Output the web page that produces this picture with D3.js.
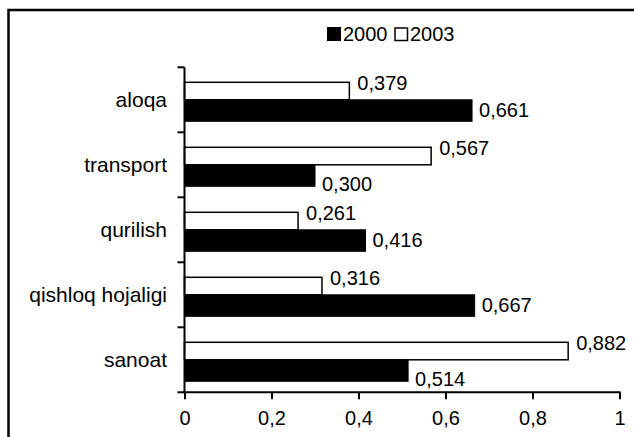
<!DOCTYPE html>
<html><head><meta charset="utf-8">
<script src="https://cdn.jsdelivr.net/npm/d3@7"></script>
<style>html,body{margin:0;padding:0;background:#fff;}svg{display:block;}</style>
</head><body>
<script>
const categories = ["aloqa", "transport", "qurilish", "qishloq hojaligi", "sanoat"];
const series = ["2000", "2003"];
const values2000 = [0.661, 0.300, 0.416, 0.667, 0.514];
const values2003 = [0.379, 0.567, 0.261, 0.316, 0.882];
const xTicks = [0, 0.2, 0.4, 0.6, 0.8, 1];

const W = 634, H = 437;
const font = "'Liberation Sans', Arial, sans-serif";
const fmt = v => d3.format(".3f")(v).replace(".", ",");
const tickFmt = v => String(v).replace(".", ",");

const svg = d3.select("body").append("svg").attr("width", W).attr("height", H);

// outer frame
svg.append("rect").attr("x", 8.5).attr("y", 10).attr("width", 800).attr("height", 600)
  .attr("fill", "none").attr("stroke", "#000").attr("stroke-width", 2.5);

const x = d3.scaleLinear().domain([0, 1]).range([184.5, 619.5]);
const y = d3.scaleBand().domain(categories).range([67.3, 392.3]).padding(0);
const sub = d3.scaleBand().domain(["2003", "2000"]).range([14.5, 53.5]).padding(0);
const bw = sub.bandwidth();

const g = svg.append("g");

categories.forEach((c, i) => {
  const y0 = y(c);
  const v3 = values2003[i], v0 = values2000[i];
  // 2003 white bar
  const wy = y0 + sub("2003") + 0.5;
  const wh = bw - 2;
  g.append("rect").attr("x", x(0)).attr("y", wy).attr("width", x(v3) - x(0)).attr("height", wh)
    .attr("fill", "#fff").attr("stroke", "#000").attr("stroke-width", 1.5);
  // 2000 black bar
  const by = y0 + sub("2000") - 1.5;
  const bh = bw + 2;
  g.append("rect").attr("x", x(0)).attr("y", by).attr("width", x(v0) - x(0)).attr("height", bh)
    .attr("fill", "#000").attr("stroke", "#000").attr("stroke-width", 1);
  // labels
  g.append("text").attr("x", x(v3) + 8).attr("y", wy + wh / 2 - 8).attr("dy", "0.36em")
    .attr("font-family", font).attr("font-size", 20).text(fmt(v3));
  const off = v3 > v0 ? 8 : -1;
  g.append("text").attr("x", x(v0) + 7).attr("y", by + bh / 2 + off).attr("dy", "0.36em")
    .attr("font-family", font).attr("font-size", 20).text(fmt(v0));
});

// y axis
const yBounds = categories.map(c => y(c)).concat([y.range()[1]]);
const ya = svg.append("g");
ya.append("line").attr("x1", x(0)).attr("x2", x(0)).attr("y1", y.range()[0]).attr("y2", y.range()[1])
  .attr("stroke", "#000").attr("stroke-width", 2);
yBounds.forEach(v => ya.append("line").attr("x1", x(0) - 7).attr("x2", x(0)).attr("y1", v).attr("y2", v)
  .attr("stroke", "#000").attr("stroke-width", 2));
categories.forEach(c => ya.append("text").attr("x", 167).attr("y", y(c) + y.bandwidth() / 2 + 7)
  .attr("text-anchor", "end").attr("font-family", font).attr("font-size", 21).text(c));

// x axis
const xa = svg.append("g").attr("transform", `translate(0,${y.range()[1]})`)
  .call(d3.axisBottom(x).tickValues(xTicks).tickFormat(tickFmt).tickSize(7).tickPadding(12));
xa.select(".domain").attr("stroke-width", 2).attr("d", `M${x(0) - 1},0H${x(1) + 1}`);
xa.selectAll(".tick line").attr("stroke-width", 2);
xa.selectAll(".tick text").attr("font-family", font).attr("font-size", 20).attr("fill", "#000");

// legend
const lg = svg.append("g");
lg.append("rect").attr("x", 327).attr("y", 27).attr("width", 14).attr("height", 14).attr("fill", "#000");
lg.append("text").attr("x", 343).attr("y", 41).attr("font-family", font).attr("font-size", 20).text(series[0]);
lg.append("rect").attr("x", 395).attr("y", 28).attr("width", 12.5).attr("height", 12.5).attr("fill", "#fff")
  .attr("stroke", "#000").attr("stroke-width", 1.5);
lg.append("text").attr("x", 410).attr("y", 41).attr("font-family", font).attr("font-size", 20).text(series[1]);
</script>
</body></html>
